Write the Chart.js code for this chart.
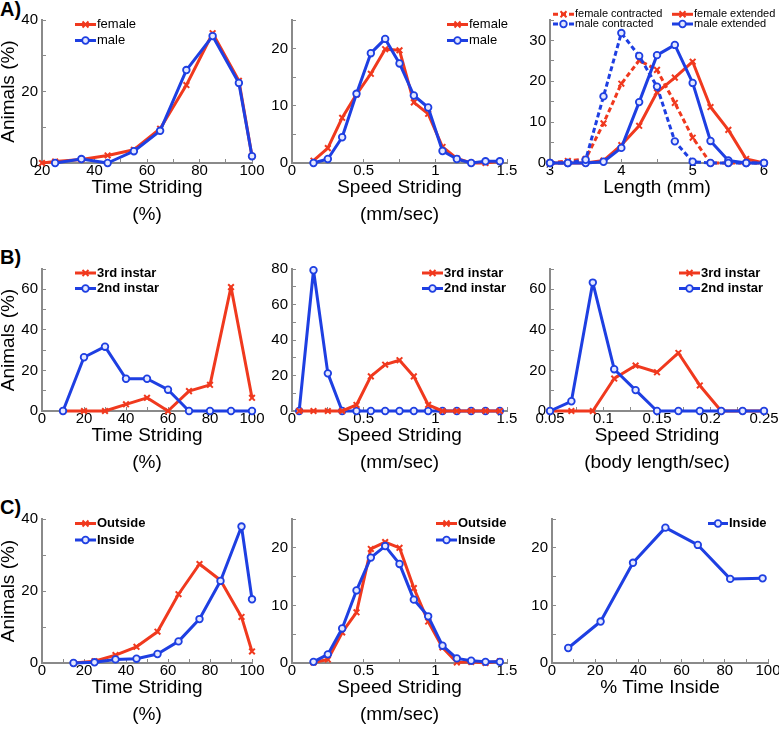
<!DOCTYPE html>
<html>
<head>
<meta charset="utf-8">
<script src="https://cdn.jsdelivr.net/npm/chart.js@4/dist/chart.umd.min.js"></script>
<style>
body { margin: 0; background: #fff; width: 779px; height: 730px; position: relative; overflow: hidden;
       font-family: "Liberation Sans", Arial, sans-serif; }
.lbl { position: absolute; left: 0; font-weight: bold; font-size: 20px; line-height: 20px; }
canvas { position: absolute; }
</style>
</head>
<body>
<div class="lbl" style="top:-1px">A)</div>
<div class="lbl" style="top:247px">B)</div>
<div class="lbl" style="top:497px">C)</div>
<script>
// ---- A) female / male
const timeFemaleA = [20, 25, 35, 45, 55, 65, 75, 85, 95, 100];
const femaleTimeA = [0, 0.4, 1.0, 2.1, 3.7, 9.6, 21.8, 36.3, 23.0, 1.9];
const timeMaleA = [25, 35, 45, 55, 65, 75, 85, 95, 100];
const maleTimeA = [0, 1.1, 0, 3.3, 9.0, 26.0, 35.5, 22.4, 1.9];

const speedA = [0.15, 0.25, 0.35, 0.45, 0.55, 0.65, 0.75, 0.85, 0.95, 1.05, 1.15, 1.25, 1.35, 1.45];
const femaleSpeedA = [0.4, 2.6, 7.9, 12.0, 15.6, 19.9, 19.7, 10.6, 8.6, 2.8, 0.8, 0, 0, 0.3];
const maleSpeedA = [0, 0.7, 4.5, 12.1, 19.2, 21.7, 17.4, 11.8, 9.7, 2.1, 0.7, 0, 0.3, 0.3];

const lengthA = [3, 3.25, 3.5, 3.75, 4, 4.25, 4.5, 4.75, 5, 5.25, 5.5, 5.75, 6];
const femaleContracted = [0, 0.5, 1.0, 9.7, 19.4, 25.1, 22.8, 14.7, 6.2, 0, 0, 0, 0];
const maleContracted = [0, 0, 0.8, 16.3, 31.8, 26.2, 18.7, 5.3, 0.3, 0, 0, 0, 0];
const femaleExtended = [0, 0, 0, 0.6, 4.4, 9.1, 17.3, 20.9, 24.8, 13.7, 8.1, 1.0, 0];
const maleExtended = [0, 0, 0, 0.3, 3.7, 14.9, 26.4, 28.9, 19.6, 5.4, 0.6, 0, 0];

// ---- B) 3rd / 2nd instar
const timeB = [10, 20, 30, 40, 50, 60, 70, 80, 90, 100];
const thirdTimeB = [0, 0, 0, 3.3, 6.5, 0, 9.8, 12.9, 61.1, 6.5];
const secondTimeB = [0, 26.5, 31.7, 15.9, 15.9, 10.5, 0, 0, 0, 0];

const speedB = [0.05, 0.15, 0.25, 0.35, 0.45, 0.55, 0.65, 0.75, 0.85, 0.95, 1.05, 1.15, 1.25, 1.35, 1.45];
const thirdSpeedB = [0, 0, 0, 0, 3.4, 19.5, 26.1, 28.6, 19.5, 3.5, 0, 0, 0, 0, 0];
const secondSpeedB = [0, 79.3, 21.2, 0, 0, 0, 0, 0, 0, 0, 0, 0, 0, 0, 0];

const bodyB = [0.05, 0.07, 0.09, 0.11, 0.13, 0.15, 0.17, 0.19, 0.21, 0.23, 0.25];
const thirdBodyB = [0, 0, 0, 16.0, 22.4, 19.1, 28.6, 12.6, 0, 0, 0];
const secondBodyB = [0, 4.8, 63.3, 20.6, 10.3, 0, 0, 0, 0, 0, 0];

// ---- C) outside / inside
const timeC = [15, 25, 35, 45, 55, 65, 75, 85, 95, 100];
const outsideTimeC = [0, 0.5, 2.2, 4.5, 8.7, 19.1, 27.5, 23.0, 12.8, 3.2];
const insideTimeC = [0, 0.2, 1.0, 1.2, 2.5, 6.0, 12.2, 22.8, 37.9, 17.7];

const speedC = [0.15, 0.25, 0.35, 0.45, 0.55, 0.65, 0.75, 0.85, 0.95, 1.05, 1.15, 1.25, 1.35, 1.45];
const outsideSpeedC = [0.1, 0.6, 5.3, 8.8, 19.8, 21.0, 20.0, 13.0, 7.2, 2.7, 0.1, 0.2, 0, 0.3];
const insideSpeedC = [0.2, 1.5, 6.0, 12.6, 18.3, 20.3, 17.2, 11.0, 8.1, 3.0, 0.8, 0.4, 0.2, 0.2];

const pctInsideC = [7.5, 22.5, 37.5, 52.5, 67.5, 82.5, 97.5];
const insidePctC = [2.6, 7.2, 17.4, 23.5, 20.5, 14.6, 14.7];

// ---- styles
const RED = '#f0391e';
const BLUE = '#1e3fe2';
const AXIS = '#8a8a8a';
const FAMILY = '"Liberation Sans", Arial, sans-serif';

function pts(xs, ys) {
    return xs.map((x, i) => ({ x: x, y: ys[i] }));
}

function redSet(label, xs, ys, dash) {
    return {
        label: label, data: pts(xs, ys), order: 1, clip: false,
        borderColor: RED, borderWidth: 3, borderDash: dash || [], borderJoinStyle: 'round',
        pointStyle: 'crossRot', pointRadius: 4, pointBorderWidth: 2,
        pointBorderColor: RED, pointBackgroundColor: RED
    };
}

function blueSet(label, xs, ys, dash) {
    return {
        label: label, data: pts(xs, ys), order: 0, clip: false,
        borderColor: BLUE, borderWidth: 3, borderDash: dash || [], borderJoinStyle: 'round',
        pointStyle: 'circle', pointRadius: 3.3, pointBorderWidth: 1.8,
        pointBorderColor: BLUE, pointBackgroundColor: '#e4e8ff'
    };
}

// legend drawn inside the plot, like the original figure
const inLegend = {
    id: 'inLegend',
    afterDatasetsDraw(chart, args, opts) {
        if (!opts.items) return;
        const ctx = chart.ctx;
        const area = chart.chartArea;
        ctx.save();
        ctx.font = opts.font;
        ctx.textBaseline = 'middle';
        ctx.textAlign = 'left';
        chart.data.datasets.forEach((ds, i) => {
            const x0 = area.left + opts.items[i][0];
            const y = area.top + opts.items[i][1];
            const x1 = x0 + opts.lineLen;
            ctx.strokeStyle = ds.borderColor;
            ctx.lineWidth = ds.borderWidth;
            ctx.setLineDash(ds.borderDash);
            ctx.beginPath();
            ctx.moveTo(x0, y);
            ctx.lineTo(x1, y);
            ctx.stroke();
            ctx.setLineDash([]);
            const xm = (x0 + x1) / 2;
            const r = ds.pointRadius;
            ctx.lineWidth = ds.pointBorderWidth;
            ctx.strokeStyle = ds.pointBorderColor;
            ctx.beginPath();
            if (ds.pointStyle === 'circle') {
                ctx.fillStyle = ds.pointBackgroundColor;
                ctx.arc(xm, y, r, 0, Math.PI * 2);
                ctx.fill();
            } else {
                const d = r * 0.75;
                ctx.moveTo(xm - d, y - d); ctx.lineTo(xm + d, y + d);
                ctx.moveTo(xm - d, y + d); ctx.lineTo(xm + d, y - d);
            }
            ctx.stroke();
            ctx.fillStyle = '#000';
            ctx.fillText(ds.label, x1 + 1, y);
        });
        ctx.restore();
    }
};

function fmt(v) {
    return String(Math.round(v * 1000) / 1000);
}

function makeChart(spec) {
    const [cx, cy, cw, ch] = spec.box;
    const [l, t, r, b] = spec.area;
    const canvas = document.createElement('canvas');
    canvas.width = cw;
    canvas.height = ch;
    canvas.style.left = cx + 'px';
    canvas.style.top = cy + 'px';
    document.body.appendChild(canvas);

    const yW = l - cx;
    const xH = cy + ch - b;
    const lh = 27;
    const pb = xH - 25 - lh / 2 - lh * (spec.xTitle.length - 1);
    const tickFont = { family: FAMILY, size: 15 };

    if (spec.redOnTop) spec.datasets.forEach(d => { d.order = d.borderColor === RED ? 0 : 1; });

    return new Chart(canvas, {
        type: 'line',
        data: { datasets: spec.datasets },
        options: {
            responsive: false,
            animation: false,
            events: [],
            layout: { autoPadding: false, padding: { left: 0, top: t - cy, right: cx + cw - r, bottom: 0 } },
            plugins: {
                legend: { display: false },
                tooltip: { enabled: false },
                inLegend: spec.legend
            },
            scales: {
                x: {
                    type: 'linear', min: spec.x[0], max: spec.x[1],
                    ticks: {
                        stepSize: spec.x[2], autoSkip: false, maxRotation: 0, padding: 3,
                        color: '#000', font: tickFont,
                        callback: (v, i) => (i % 2 ? '' : fmt(v))
                    },
                    grid: { drawOnChartArea: false, tickLength: -4, color: AXIS, lineWidth: 1 },
                    border: { color: AXIS, width: 2 },
                    title: {
                        display: true, text: spec.xTitle, color: '#000',
                        font: { family: FAMILY, size: 19, lineHeight: lh + 'px' },
                        padding: { top: 0, bottom: pb }
                    },
                    afterFit(s) { s.height = xH; s.paddingLeft = 0; s.paddingRight = 0; }
                },
                y: {
                    min: spec.y[0], max: spec.y[1],
                    ticks: {
                        stepSize: spec.y[2], autoSkip: false, padding: 8,
                        color: '#000', font: tickFont,
                        callback: (v, i) => (i % 2 ? '' : fmt(v))
                    },
                    grid: { drawOnChartArea: false, tickLength: -4, color: AXIS, lineWidth: 1 },
                    border: { color: AXIS, width: 2 },
                    title: {
                        display: !!spec.yTitle, text: spec.yTitle || '', color: '#000',
                        font: { family: FAMILY, size: 19, lineHeight: '18px' },
                        padding: 0
                    },
                    afterFit(s) { s.width = yW; s.paddingTop = 0; s.paddingBottom = 0; }
                }
            }
        },
        plugins: [inLegend]
    });
}

const legendPlain = '13px ' + FAMILY;
const legendBold = 'bold 13px ' + FAMILY;

// row A
makeChart({
    box: [0, 0, 272, 232], area: [42, 20, 252, 163],
    x: [20, 100, 10], y: [0, 40, 10],
    xTitle: ['Time Striding', '(%)'], yTitle: 'Animals (%)',
    datasets: [redSet('female', timeFemaleA, femaleTimeA), blueSet('male', timeMaleA, maleTimeA)],
    legend: { font: legendPlain, lineLen: 21, items: [[33, 4.5], [33, 20.5]] }
});
makeChart({
    box: [252, 0, 268, 232], area: [292, 20, 507, 163],
    x: [0, 1.5, 0.25], y: [0, 25, 5],
    xTitle: ['Speed Striding', '(mm/sec)'],
    datasets: [redSet('female', speedA, femaleSpeedA), blueSet('male', speedA, maleSpeedA)],
    legend: { font: legendPlain, lineLen: 21, items: [[155, 4.5], [155, 20.5]] }
});
makeChart({
    box: [510, 0, 269, 232], area: [550, 20, 764, 163],
    x: [3, 6, 0.5], y: [0, 35, 5],
    xTitle: ['Length (mm)'],
    datasets: [
        redSet('female contracted', lengthA, femaleContracted, [5, 3]),
        blueSet('male contracted', lengthA, maleContracted, [5, 3]),
        redSet('female extended', lengthA, femaleExtended),
        blueSet('male extended', lengthA, maleExtended)
    ],
    legend: { font: '11px ' + FAMILY, lineLen: 21, items: [[3, -5.7], [3, 4], [122, -5.7], [122, 4]] }
});

// row B
makeChart({
    box: [0, 232, 272, 248], area: [42, 269, 252, 411],
    x: [0, 100, 10], y: [0, 70, 10],
    xTitle: ['Time Striding', '(%)'], yTitle: 'Animals (%)',
    datasets: [redSet('3rd instar', timeB, thirdTimeB), blueSet('2nd instar', timeB, secondTimeB)],
    legend: { font: legendBold, lineLen: 21, items: [[33, 4], [33, 19.5]] }
});
makeChart({
    box: [252, 232, 268, 248], area: [292, 269, 507, 411],
    x: [0, 1.5, 0.25], y: [0, 80, 10], redOnTop: true,
    xTitle: ['Speed Striding', '(mm/sec)'],
    datasets: [redSet('3rd instar', speedB, thirdSpeedB), blueSet('2nd instar', speedB, secondSpeedB)],
    legend: { font: legendBold, lineLen: 21, items: [[130, 4], [130, 19.5]] }
});
makeChart({
    box: [510, 232, 269, 248], area: [550, 269, 764, 411],
    x: [0.05, 0.25, 0.025], y: [0, 70, 10],
    xTitle: ['Speed Striding', '(body length/sec)'],
    datasets: [redSet('3rd instar', bodyB, thirdBodyB), blueSet('2nd instar', bodyB, secondBodyB)],
    legend: { font: legendBold, lineLen: 21, items: [[129, 4], [129, 19.5]] }
});

// row C
makeChart({
    box: [0, 482, 272, 248], area: [42, 519, 252, 663],
    x: [0, 100, 10], y: [0, 40, 10],
    xTitle: ['Time Striding', '(%)'], yTitle: 'Animals (%)',
    datasets: [redSet('Outside', timeC, outsideTimeC), blueSet('Inside', timeC, insideTimeC)],
    legend: { font: legendBold, lineLen: 21, items: [[33, 4.5], [33, 21]] }
});
makeChart({
    box: [252, 482, 268, 248], area: [292, 519, 507, 663],
    x: [0, 1.5, 0.25], y: [0, 25, 5],
    xTitle: ['Speed Striding', '(mm/sec)'],
    datasets: [redSet('Outside', speedC, outsideSpeedC), blueSet('Inside', speedC, insideSpeedC)],
    legend: { font: legendBold, lineLen: 21, items: [[144, 4.5], [144, 21]] }
});
makeChart({
    box: [510, 482, 269, 248], area: [552, 519, 768, 663],
    x: [0, 100, 10], y: [0, 25, 5],
    xTitle: ['% Time Inside'],
    datasets: [blueSet('Inside', pctInsideC, insidePctC)],
    legend: { font: legendBold, lineLen: 20, items: [[156, 4.5]] }
});
</script>
</body>
</html>
